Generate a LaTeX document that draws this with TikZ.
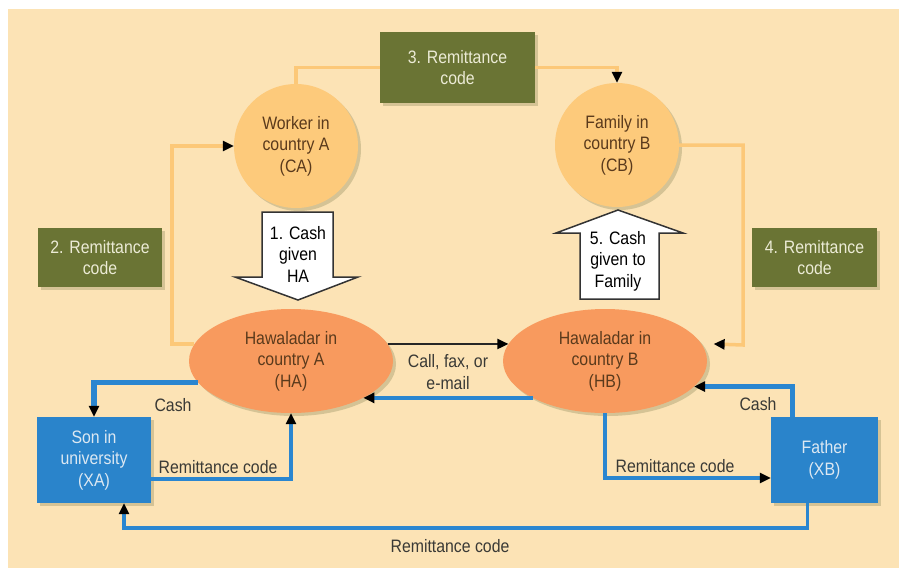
\documentclass[tikz,border=0pt]{standalone}
\usepackage{fontspec}
\setmainfont{Liberation Sans}[FakeStretch=0.88]
\usetikzlibrary{shapes.geometric,shadows,arrows.meta}
\definecolor{bgc}{HTML}{FCE3B5}
\definecolor{circc}{HTML}{FDCA7B}
\definecolor{ellc}{HTML}{F89A5E}
\definecolor{olivec}{HTML}{6A7434}
\definecolor{bluec}{HTML}{2A84CB}
\definecolor{olinec}{HTML}{FCC878}
\definecolor{blinec}{HTML}{2A86D0}
\definecolor{browntxt}{HTML}{5A3A1C}
\definecolor{lighttxt}{HTML}{ECEBD6}
\definecolor{bluetxt}{HTML}{DCE8F2}
\definecolor{labtxt}{HTML}{3A3A36}
\definecolor{shadc}{HTML}{8E8A5C}
\tikzset{
  shad/.style={drop shadow={opacity=0.35,shadow xshift=3pt,shadow yshift=-3pt,color=shadc}},
  circnode/.style={circle,fill=circc,minimum size=124pt,inner sep=0pt,align=center,text=browntxt,shad},
  ellnode/.style={ellipse,fill=ellc,minimum width=204pt,minimum height=104pt,inner sep=0pt,align=center,text=browntxt,shad},
  olivebox/.style={rectangle,fill=olivec,align=center,text=lighttxt,shad},
  bluebox/.style={rectangle,fill=bluec,align=center,text=bluetxt,shad},
  tip/.style={-{Triangle[length=11pt,width=10pt,color=black]}},
  oline/.style={draw=olinec,line width=3.5pt},
  bline/.style={draw=blinec,line width=3.5pt},
  cline/.style={draw=blinec,line width=5.5pt},
  lab/.style={text=labtxt,align=center,inner sep=0pt},
  blockarrow/.style={fill=white,draw=black!80,line width=1.5pt,line join=miter}
}
\begin{document}
\begin{tikzpicture}[x=1pt,y=-1pt,font=\fontsize{18}{21.5}\selectfont]
\useasboundingbox (0,0) rectangle (899,571);
\fill[white] (0,0) rectangle (899,571);
\fill[bgc] (8,9) rectangle (899,568);

% nodes
\node[circnode] (CA) at (296,146) {Worker in\\country A\\(CA)};
\node[circnode] (CB) at (617,145) {Family in\\country B\\(CB)};
\node[ellnode] (HA) at (291,361) {Hawaladar in\\country A\\(HA)};
\node[ellnode] (HB) at (605,361) {Hawaladar in\\country B\\(HB)};
\node[olivebox,minimum width=155pt,minimum height=71pt] (b3) at (457.5,67.5) {3. Remittance\\code};
\node[olivebox,minimum width=124pt,minimum height=59pt] (b2) at (100,257.5) {2. Remittance\\code};
\node[olivebox,minimum width=125pt,minimum height=59pt] (b4) at (814.5,257.5) {4. Remittance\\code};
\node[bluebox,minimum width=114pt,minimum height=86pt] (XA) at (94,460) {Son in\\university\\(XA)};
\node[bluebox,minimum width=107pt,minimum height=86pt] (XB) at (824.5,460) {Father\\(XB)};

% orange connectors
\coordinate (lc) at (172,146);
\coordinate (rc) at (743,345);
\draw[oline] (CA.north) |- (b3.west);
\draw[oline,tip] (b3.east) -| (CB.north);
\draw[oline,tip] (HA.170) -| (lc) -- (CA.west);
\draw[oline,tip] (CB.east) -| (rc) -- ([xshift=12pt]HB.10);

% black connector
\draw[line width=2pt,draw=black!85,tip] (HA.10) -- (HB.170);

% blue connectors
\coordinate (botc) at (450,528);
\draw[bline,tip] (HB.207) -- (HA.333);
\draw[cline,tip] (HA.193) -| (XA.north);
\draw[bline,tip] ([yshift=-19pt]XA.east) -| (HA.south);
\draw[bline,tip] ([xshift=-17pt]XB.south) |- (botc) -| ([xshift=30pt]XA.south);
\draw[cline,tip] ([xshift=-32pt]XB.north) |- (HB.344);
\draw[bline,tip] (HB.south) |- ([yshift=-18pt]XB.west);

% block arrows
\draw[blockarrow] (262,212) -- (333,212) -- (333,277) -- (358,277) -- (298,300) -- (235,277) -- (262,277) -- cycle;
\node[lab,text=black] (t1) at (298,254) {1. Cash\\given\\HA};
\draw[blockarrow] (580,299) -- (659,299) -- (659,233) -- (683,233) -- (618,210) -- (556,233) -- (580,233) -- cycle;
\node[lab,text=black] (t5) at (618,261) {5. Cash\\given to\\Family};

% labels
\node[lab] (l1) at (448,372) {Call, fax, or\\e-mail};
\node[lab] (l2) at (173,405) {Cash};
\node[lab] (l3) at (218,467) {Remittance code};
\node[lab] (l4) at (758,404) {Cash};
\node[lab] (l5) at (675,466) {Remittance code};
\node[lab] (l6) at (450,546) {Remittance code};
\end{tikzpicture}
\end{document}
